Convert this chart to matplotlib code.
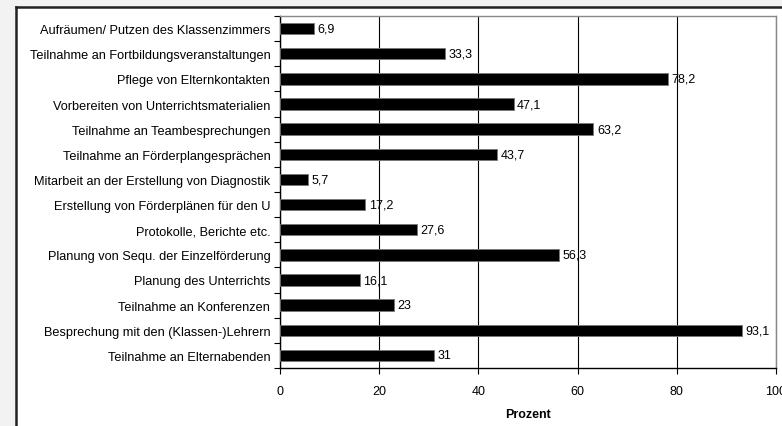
import matplotlib.pyplot as plt
import numpy as np
from matplotlib.lines import Line2D
from matplotlib.patches import Rectangle

plt.rcParams['font.family'] = ['Liberation Sans', 'DejaVu Sans']

# Tätigkeiten (von oben nach unten)
taetigkeiten = [
    'Aufräumen/ Putzen des Klassenzimmers',
    'Teilnahme an Fortbildungsveranstaltungen',
    'Pflege von Elternkontakten',
    'Vorbereiten von Unterrichtsmaterialien',
    'Teilnahme an Teambesprechungen',
    'Teilnahme an Förderplangesprächen',
    'Mitarbeit an der Erstellung von Diagnostik',
    'Erstellung von Förderplänen für den U',
    'Protokolle, Berichte etc.',
    'Planung von Sequ. der Einzelförderung',
    'Planung des Unterrichts',
    'Teilnahme an Konferenzen',
    'Besprechung mit den (Klassen-)Lehrern',
    'Teilnahme an Elternabenden',
]
prozent = [6.9, 33.3, 78.2, 47.1, 63.2, 43.7, 5.7, 17.2, 27.6, 56.3, 16.1, 23, 93.1, 31]
x_ticks = [0, 20, 40, 60, 80, 100]

W, H = 782, 427
fig = plt.figure(figsize=(W / 100, H / 100), dpi=100)
fig.patch.set_facecolor('#f2f2f2')

# weißes Panel mit Rahmen links/oben
fig.add_artist(Rectangle((16 / W, 0), 1, (H - 8) / H, transform=fig.transFigure,
                         facecolor='white', edgecolor='none', zorder=0))
fig.add_artist(Line2D([16 / W, 16 / W], [0, (H - 8) / H], transform=fig.transFigure,
                      color='#222222', lw=1.8))
fig.add_artist(Line2D([16 / W, 1], [(H - 8) / H, (H - 8) / H], transform=fig.transFigure,
                      color='#222222', lw=1.8))

ax = fig.add_axes([280 / W, (H - 369) / H, (776 - 280) / W, (369 - 17) / H])
ax.set_facecolor('white')

y = np.arange(len(taetigkeiten))
ax.barh(y, prozent, height=0.45, color='black', edgecolor='#777777', linewidth=0.6, zorder=3)
for yi, v in zip(y, prozent):
    txt = f'{v:g}'.replace('.', ',')
    ax.text(v + 0.7, yi, txt, va='center', ha='left', fontsize=9, zorder=4)

ax.set_xlim(0, 100)
ax.set_ylim(len(taetigkeiten) - 0.5, -0.5)
ax.set_xticks(x_ticks)
ax.set_xticklabels([str(t) for t in x_ticks], fontsize=9)
ax.set_yticks(y)
ax.set_yticklabels(taetigkeiten, fontsize=9.2)
ax.tick_params(axis='y', length=0, pad=7)
ax.set_yticks(np.arange(len(taetigkeiten) + 1) - 0.5, minor=True)
ax.tick_params(axis='y', which='minor', length=4, width=0.8, direction='out')
ax.tick_params(axis='x', length=4, width=0.8, direction='out', pad=8)

ax.grid(axis='x', color='black', linewidth=0.8, zorder=1)
for s in ['left', 'bottom']:
    ax.spines[s].set_color('black')
    ax.spines[s].set_linewidth(1.0)
for s in ['top', 'right']:
    ax.spines[s].set_color('#888888')
    ax.spines[s].set_linewidth(1.0)

ax.set_xlabel('Prozent', fontsize=9, fontweight='bold', labelpad=8)

fig.savefig('out.png', dpi=100)
